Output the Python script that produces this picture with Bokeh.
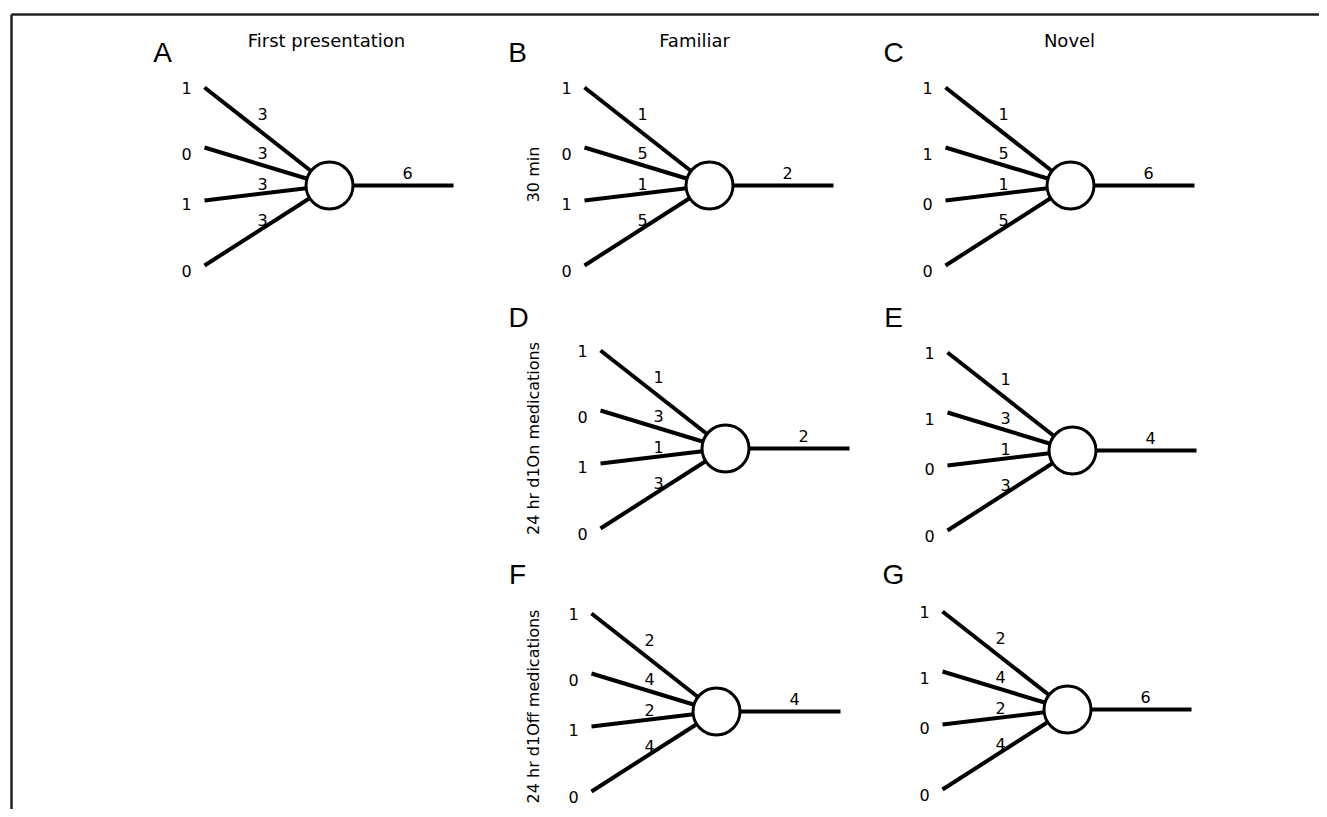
import math
from bokeh.plotting import figure
from bokeh.models import Range1d
from bokeh.core.properties import value
from bokeh.embed import file_html
from bokeh.resources import INLINE

# ---- data ----
panel_letters = ["A", "B", "C", "D", "E", "F", "G"]
input_values = {
    "A": [1, 0, 1, 0],
    "B": [1, 0, 1, 0],
    "C": [1, 1, 0, 0],
    "D": [1, 0, 1, 0],
    "E": [1, 1, 0, 0],
    "F": [1, 0, 1, 0],
    "G": [1, 1, 0, 0],
}
weights = {
    "A": [3, 3, 3, 3],
    "B": [1, 5, 1, 5],
    "C": [1, 5, 1, 5],
    "D": [1, 3, 1, 3],
    "E": [1, 3, 1, 3],
    "F": [2, 4, 2, 4],
    "G": [2, 4, 2, 4],
}
outputs = {"A": 6, "B": 2, "C": 6, "D": 2, "E": 4, "F": 4, "G": 6}
column_titles = ["First presentation", "Familiar", "Novel"]
row_titles = ["30 min", "24 hr d1On medications", "24 hr d1Off medications"]

# ---- layout (pixel coordinates of the page) ----
centers = {
    "A": (329, 185), "B": (709, 185), "C": (1070, 185),
    "D": (725, 448), "E": (1072, 450),
    "F": (716, 711), "G": (1067, 709),
}
letter_pos = {
    "A": (162, 52), "B": (517, 52), "C": (893, 52),
    "D": (518, 317), "E": (893, 317),
    "F": (517, 574), "G": (893, 574),
}
col_title_pos = [(326, 40), (694, 40), (1069, 40)]
row_title_pos = [(533, 174), (533, 438), (533, 706)]

in_label_dx = -143
in_label_dy = [-98, -32, 18, 85]
line_dx = -125
line_dy = [-98, -38, 15, 80]
w_dx = -67
w_dy = [-72, -33, -2, 34]
out_len = 124
out_lab_dx, out_lab_dy = 78, -13

W, H = 1319, 809
p = figure(width=W, height=H, output_backend="svg", toolbar_location=None,
           x_range=Range1d(0, W), y_range=Range1d(H, 0),
           x_axis_type=None, y_axis_type=None, min_border=0)
p.grid.visible = False
p.outline_line_color = None
p.background_fill_color = "white"
p.border_fill_color = "white"

# frame (top and left rules)
p.segment(x0=[11, 11], y0=[14, 14], x1=[1340, 11], y1=[14, 830],
          line_color="#231f20", line_width=2.5)

FONT = value("DejaVu Sans")
seg_x0, seg_y0, seg_x1, seg_y1 = [], [], [], []
tx, ty, tt = [], [], []
cx_l, cy_l = [], []
for k in panel_letters:
    cx, cy = centers[k]
    for i in range(4):
        seg_x0.append(cx + line_dx); seg_y0.append(cy + line_dy[i])
        seg_x1.append(cx); seg_y1.append(cy)
        tx.append(cx + in_label_dx); ty.append(cy + in_label_dy[i]); tt.append(str(input_values[k][i]))
        tx.append(cx + w_dx); ty.append(cy + w_dy[i]); tt.append(str(weights[k][i]))
    seg_x0.append(cx); seg_y0.append(cy)
    seg_x1.append(cx + out_len); seg_y1.append(cy)
    tx.append(cx + out_lab_dx); ty.append(cy + out_lab_dy); tt.append(str(outputs[k]))
    cx_l.append(cx); cy_l.append(cy)

p.segment(x0=seg_x0, y0=seg_y0, x1=seg_x1, y1=seg_y1, line_color="black",
          line_width=4, line_cap="butt")
p.scatter(x=cx_l, y=cy_l, marker="circle", size=47, fill_color="white",
          line_color="black", line_width=3)
p.text(x=tx, y=ty, text=tt, text_font=FONT, text_font_size="16px",
       text_align="center", text_baseline="middle", text_color="black")

# panel letters
p.text(x=[letter_pos[k][0] for k in panel_letters], y=[letter_pos[k][1] for k in panel_letters],
       text=panel_letters, text_font=value("Liberation Sans"), text_font_size="28px",
       text_align="center", text_baseline="middle", text_color="black")
# column titles
p.text(x=[c[0] for c in col_title_pos], y=[c[1] for c in col_title_pos], text=column_titles,
       text_font=FONT, text_font_size="18px", text_align="center",
       text_baseline="middle", text_color="black")
# row titles (rotated)
p.text(x=[c[0] for c in row_title_pos], y=[c[1] for c in row_title_pos], text=row_titles,
       text_font=FONT, text_font_size="16px", text_align="center",
       text_baseline="middle", text_color="black", angle=math.pi / 2)

open("out.html", "w").write(file_html(p, INLINE))
